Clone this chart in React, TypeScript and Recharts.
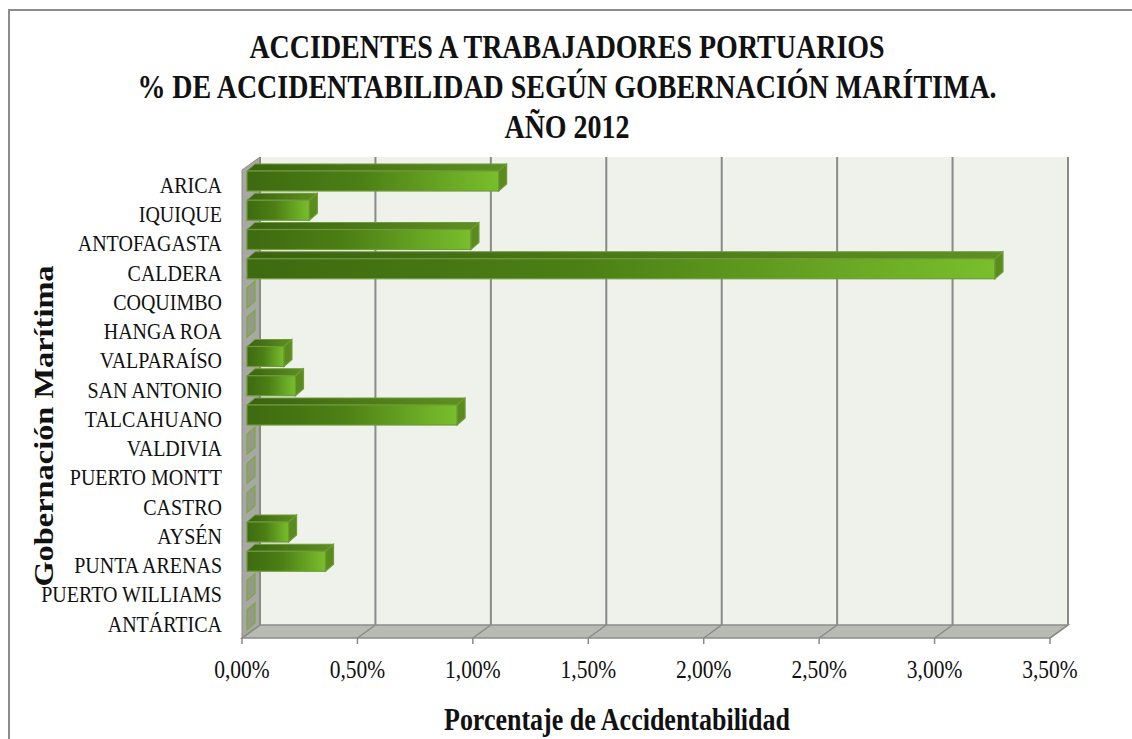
import React from "react";
import { BarChart, Bar, XAxis, YAxis, CartesianGrid, ReferenceArea } from "recharts";

const categories = [
  "ARICA", "IQUIQUE", "ANTOFAGASTA", "CALDERA", "COQUIMBO", "HANGA ROA",
  "VALPARAÍSO", "SAN ANTONIO", "TALCAHUANO", "VALDIVIA", "PUERTO MONTT",
  "CASTRO", "AYSÉN", "PUNTA ARENAS", "PUERTO WILLIAMS", "ANTÁRTICA",
];
const accidentRate = [1.09, 0.27, 0.97, 3.24, 0, 0, 0.16, 0.21, 0.91, 0, 0, 0, 0.18, 0.34, 0, 0];
const xTicks = [0, 0.5, 1, 1.5, 2, 2.5, 3, 3.5];
const rowEdges = [0, 1, 2, 3, 4, 5, 6, 7, 8, 9, 10, 11, 12, 13, 14, 15, 16];
const titleLines = [
  "ACCIDENTES A TRABAJADORES PORTUARIOS",
  "% DE ACCIDENTABILIDAD SEGÚN GOBERNACIÓN MARÍTIMA.",
  "AÑO 2012",
];

const data = categories.map((name, i) => ({ name, value: accidentRate[i] }));

// 3d depth of the walls and of the bars
const DX = 18;
const DY = 13;
const BDX = 8;
const BDY = 7;
const SERIF = "'Liberation Serif', 'Times New Roman', serif";
const STRETCH = 1.2; // the original picture is a bit stretched vertically
const GRID = "#8a8a8a";

const fmtPct = (v: number) => v.toFixed(2).replace(".", ",") + "%";

const Walls = (props: any) => {
  const { x, y, width: w, height: h } = props;
  return (
    <g>
      <rect x={x + DX} y={y - DY} width={w} height={h} fill="#eff1eb" />
      <polygon
        points={`${x},${y} ${x + DX},${y - DY} ${x + DX},${y + h - DY} ${x},${y + h}`}
        fill="#a7a8a4" stroke="#8c8d89" strokeWidth={1}
      />
      <polygon
        points={`${x},${y + h} ${x + DX},${y + h - DY} ${x + w + DX},${y + h - DY} ${x + w},${y + h}`}
        fill="#b8bab4" stroke="#8c8d89" strokeWidth={1.5}
      />
    </g>
  );
};

const gridLine = (p: any) => (
  <g key={p.key ?? `g-${p.x1}`}>
    <line x1={p.x1 + DX} y1={p.y1 - DY} x2={p.x2 + DX} y2={p.y2 - DY} stroke={GRID} strokeWidth={2} />
    <line x1={p.x2 + DX} y1={p.y2 - DY} x2={p.x2} y2={p.y2} stroke={GRID} strokeWidth={1.5} />
  </g>
);

const Bar3D = (props: any) => {
  const { x, y, width, height, index } = props;
  const w = Math.max(width || 0, 0);
  const fx = x + 5;
  const fy = y - 4;
  const h = height;
  const gid = `face-${index}`;
  const tid = `top-${index}`;
  return (
    <g>
      <defs>
        <linearGradient id={gid} x1="0" y1="0" x2="1" y2="0">
          <stop offset="0" stopColor="#3e6a10" />
          <stop offset="0.45" stopColor="#4c7f15" />
          <stop offset="1" stopColor="#79bf2c" />
        </linearGradient>
        <linearGradient id={tid} x1="0" y1="0" x2="1" y2="0">
          <stop offset="0" stopColor="#3a6210" />
          <stop offset="1" stopColor="#5e9020" />
        </linearGradient>
      </defs>
      {w > 0 && (
        <>
          <polygon
            points={`${fx},${fy} ${fx + BDX},${fy - BDY} ${fx + w + BDX},${fy - BDY} ${fx + w},${fy}`}
            fill={`url(#${tid})`} stroke="#6e9a3a" strokeWidth={1}
          />
          <rect x={fx} y={fy} width={w} height={h} fill={`url(#${gid})`} stroke="#6e9a3a" strokeWidth={1.2} />
        </>
      )}
      <polygon
        points={`${fx + w},${fy} ${fx + w + BDX},${fy - BDY} ${fx + w + BDX},${fy + h - BDY} ${fx + w},${fy + h}`}
        fill={w > 0 ? "#5a8c1d" : "#939b86"} stroke={w > 0 ? "#6e9a3a" : "#7ea83f"} strokeWidth={1.2}
      />
    </g>
  );
};

const CategoryTick = (props: any) => {
  const { x, y, payload } = props;
  return (
    <text
      transform={`translate(${x},${y}) scale(1,${STRETCH})`}
      textAnchor="end" dy="0.34em"
      fontFamily={SERIF} fontSize={20} fill="#111"
    >
      {payload.value}
    </text>
  );
};

const PctTick = (props: any) => {
  const { x, payload } = props;
  return (
    <text
      transform={`translate(${x},678) scale(1,${STRETCH})`}
      textAnchor="middle"
      fontFamily={SERIF} fontSize={21.5} fill="#111"
    >
      {fmtPct(payload.value)}
    </text>
  );
};

export default function App() {
  return (
    <div style={{ position: "absolute", left: 0, top: 0, width: 1132, height: 739, background: "#fff" }}>
      <BarChart
        width={1132}
        height={739}
        layout="vertical"
        data={data}
        margin={{ top: 170, right: 82, bottom: 41, left: 0 }}
      >
        <ReferenceArea x1={0} x2={3.5} shape={Walls} zIndex={-200} ifOverflow="visible" />
        <CartesianGrid horizontal={false} vertical={gridLine} />
        <XAxis
          type="number"
          domain={[0, 3.5]}
          ticks={xTicks}
          height={60}
          axisLine={false}
          tickSize={6}
          tickLine={{ stroke: GRID, strokeWidth: 1.5 }}
          tick={PctTick}
          interval={0}
        />
        <YAxis
          yAxisId="edge"
          type="number"
          domain={[0, 16]}
          ticks={rowEdges}
          width={0}
          axisLine={false}
          tickSize={6}
          tickLine={{ stroke: GRID, strokeWidth: 1.5 }}
          tick={false}
          interval={0}
        />
        <YAxis
          type="category"
          dataKey="name"
          width={242}
          axisLine={false}
          tickLine={false}
          tickSize={0}
          tickMargin={20}
          tick={CategoryTick}
          interval={0}
        />
        <Bar dataKey="value" barSize={20} shape={Bar3D} isAnimationActive={false} />
      </BarChart>
      <svg
        width={1132}
        height={739}
        style={{ position: "absolute", left: 0, top: 0, pointerEvents: "none" }}
      >
        <rect x={9} y={10} width={1140} height={760} fill="none" stroke="#8c8c8c" strokeWidth={2} />
        {titleLines.map((t, i) => (
          <text
            key={t}
            transform={`translate(567,${58 + i * 40}) scale(1,${STRETCH})`}
            textAnchor="middle"
            fontFamily={SERIF} fontWeight="bold" fontSize={28} fill="#111"
          >
            {t}
          </text>
        ))}
        <text
          transform={`translate(53,426) scale(1,${STRETCH}) rotate(-90)`}
          textAnchor="middle"
          fontFamily={SERIF} fontWeight="bold" fontSize={27} fill="#111"
        >
          Gobernación Marítima
        </text>
        <text
          transform={`translate(617,730) scale(1,${STRETCH})`}
          textAnchor="middle"
          fontFamily={SERIF} fontWeight="bold" fontSize={26} fill="#111"
        >
          Porcentaje de Accidentabilidad
        </text>
      </svg>
    </div>
  );
}
